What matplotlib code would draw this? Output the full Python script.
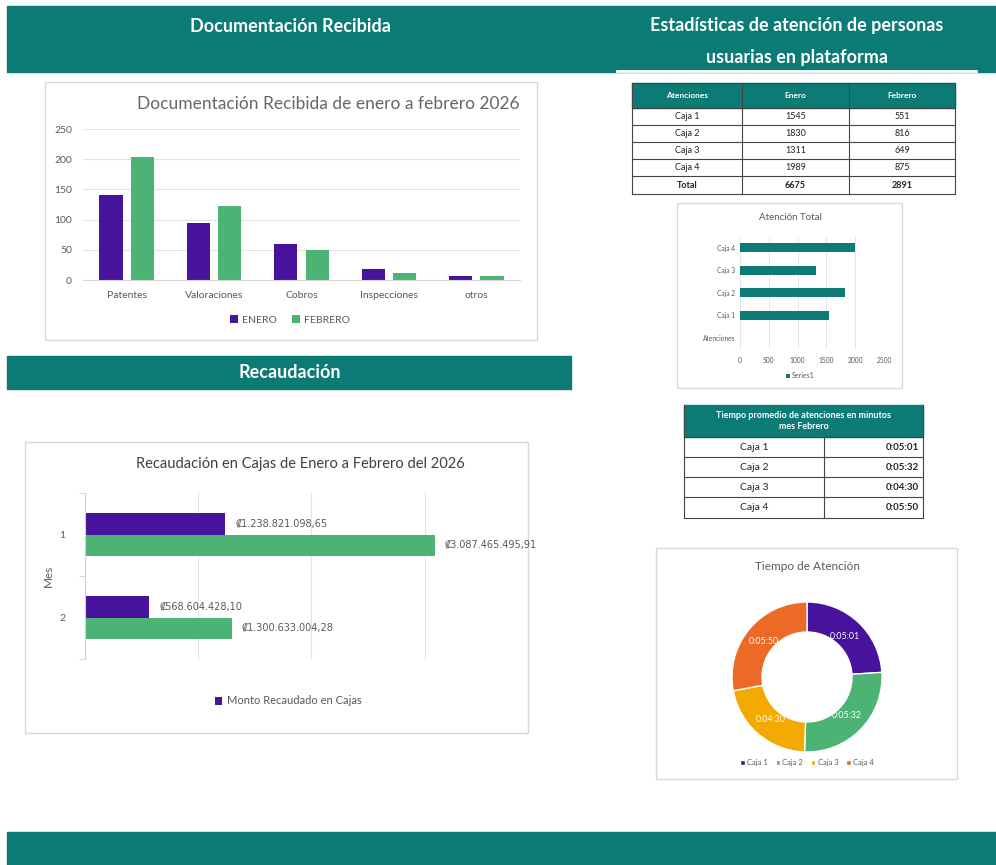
import matplotlib
matplotlib.use("Agg")
import matplotlib.pyplot as plt
from matplotlib.patches import Rectangle
import numpy as np

plt.rcParams['font.family'] = ['Lato', 'DejaVu Sans']

# ---------------- DATA ----------------
doc_categories = ["Patentes", "Valoraciones", "Cobros", "Inspecciones", "otros"]
doc_enero = [140, 95, 59, 19, 7]
doc_febrero = [204, 122, 50, 12, 6]
doc_series = ["ENERO", "FEBRERO"]

rec_meses = ["1", "2"]
rec_serie_a = [1238821098.65, 568604428.10]
rec_serie_b = [3087465495.91, 1300633004.28]
rec_labels_a = ["₡1.238.821.098,65", "₡568.604.428,10"]
rec_labels_b = ["₡3.087.465.495,91", "₡1.300.633.004,28"]

tabla_cols = ["Atenciones", "Enero", "Febrero"]
tabla_cajas = ["Caja 1", "Caja 2", "Caja 3", "Caja 4"]
tabla_enero = [1545, 1830, 1311, 1989]
tabla_febrero = [551, 816, 649, 875]

at_categories = ["Atenciones", "Caja 1", "Caja 2", "Caja 3", "Caja 4"]
at_values = [0, 1545, 1830, 1311, 1989]

tiempo_cajas = ["Caja 1", "Caja 2", "Caja 3", "Caja 4"]
tiempo_labels = ["0:05:01", "0:05:32", "0:04:30", "0:05:50"]
tiempo_segundos = [301, 332, 270, 350]

# ---------------- STYLE ----------------
W, H = 996, 865
TEAL = "#0c7b76"
PURPLE = "#47129c"
GREEN = "#4db374"
YELLOW = "#f2a900"
ORANGE = "#ec6a25"
GRAY_TXT = "#595959"
GRID = "#e3e3e3"

fig = plt.figure(figsize=(W / 100, H / 100), dpi=100)
fig.patch.set_facecolor("white")


def rect(x0, y0, x1, y1):
    return [x0 / W, 1 - y1 / H, (x1 - x0) / W, (y1 - y0) / H]


def fpt(x, y):
    return (x / W, 1 - y / H)


bg = fig.add_axes([0, 0, 1, 1], zorder=0)
bg.set_xlim(0, W)
bg.set_ylim(H, 0)
bg.axis("off")

# header bands
bg.add_patch(Rectangle((7, 6), W - 7, 66, color=TEAL))
bg.plot([617, 976], [71, 71], color="white", lw=2)
bg.text(290, 26, "Documentación Recibida", color="white", fontsize=13,
        fontweight="bold", ha="center", va="center")
bg.text(797, 26, "Estadísticas de atención de personas", color="white",
        fontsize=13, fontweight="bold", ha="center", va="center")
bg.text(797, 57, "usuarias en plataforma", color="white", fontsize=13,
        fontweight="bold", ha="center", va="center")
bg.add_patch(Rectangle((7, 356), 564, 33, color=TEAL))
bg.text(290, 373, "Recaudación", color="white", fontsize=13,
        fontweight="bold", ha="center", va="center")
bg.add_patch(Rectangle((7, 832), W - 7, 33, color=TEAL))

# chart boxes
for (x0, y0, x1, y1) in [(45, 82, 537, 340), (25, 442, 528, 733),
                         (677, 203, 902, 388), (656, 548, 957, 779)]:
    bg.add_patch(Rectangle((x0, y0), x1 - x0, y1 - y0, facecolor="white",
                           edgecolor="#d9d9d9", lw=1))

# ---------------- Chart 1: Documentación ----------------
ax1 = fig.add_axes(rect(83, 129, 520, 280), zorder=2)
x = np.arange(len(doc_categories))
bw = 0.265
ax1.bar(x - 0.18, doc_enero, bw, color=PURPLE, label=doc_series[0])
ax1.bar(x + 0.18, doc_febrero, bw, color=GREEN, label=doc_series[1])
ax1.set_xlim(-0.5, len(doc_categories) - 0.5)
ax1.set_ylim(0, 250)
ax1.set_yticks(range(0, 251, 50))
ax1.set_xticks(x)
ax1.set_xticklabels(doc_categories)
ax1.tick_params(length=0, labelsize=7.5, labelcolor=GRAY_TXT, pad=8)
ax1.grid(axis="y", color=GRID, lw=0.8)
ax1.set_axisbelow(True)
for s in ["top", "right", "left"]:
    ax1.spines[s].set_visible(False)
ax1.spines["bottom"].set_color("#d9d9d9")
ax1.patch.set_alpha(0)
fig.text(*fpt(328, 104), "Documentación Recibida de enero a febrero 2026",
         ha="center", va="center", fontsize=12.5, color="#666666")
ax1.legend(loc="center", bbox_to_anchor=fpt(290, 320), bbox_transform=fig.transFigure,
           ncol=2, frameon=False, fontsize=7.5, handlelength=0.7, handleheight=0.7,
           handletextpad=0.4, columnspacing=1.5, labelcolor=GRAY_TXT)

# ---------------- Chart 2: Recaudación ----------------
ax2 = fig.add_axes(rect(85, 493, 470, 659), zorder=2)
y = np.arange(1, len(rec_meses) + 1)
hb = 0.265
ax2.barh(y - hb / 2, rec_serie_a, hb, color=PURPLE, label="Monto Recaudado en Cajas")
ax2.barh(y + hb / 2, rec_serie_b, hb, color=GREEN)
ax2.set_ylim(2.5, 0.5)
ax2.set_xlim(0, 3.4e9)
ax2.set_xticks([1e9, 2e9, 3e9])
ax2.set_xticklabels([])
ax2.tick_params(axis="x", length=0)
ax2.set_yticks(y)
ax2.set_yticklabels(rec_meses)
ax2.set_yticks([0.5, 1.5, 2.5], minor=True)
ax2.tick_params(axis="y", which="major", length=0, labelsize=7.5,
                labelcolor=GRAY_TXT, pad=14)
ax2.tick_params(axis="y", which="minor", length=4, color="#d0d0d0")
ax2.grid(axis="x", color=GRID, lw=0.8)
ax2.set_axisbelow(True)
for s in ["top", "right", "bottom"]:
    ax2.spines[s].set_visible(False)
ax2.spines["left"].set_color("#d0d0d0")
ax2.patch.set_alpha(0)
for yi, v, lab in zip(y - hb / 2, rec_serie_a, rec_labels_a):
    ax2.annotate(lab, (v, yi), xytext=(7, 0), textcoords="offset points",
                 va="center", ha="left", fontsize=7, color=GRAY_TXT, clip_on=False,
                 family=["DejaVu Sans"])
for yi, v, lab in zip(y + hb / 2, rec_serie_b, rec_labels_b):
    ax2.annotate(lab, (v, yi), xytext=(7, 0), textcoords="offset points",
                 va="center", ha="left", fontsize=7, color=GRAY_TXT, clip_on=False,
                 family=["DejaVu Sans"])
fig.text(*fpt(48, 576), "Mes", rotation=90, ha="center", va="center",
         fontsize=8.5, color=GRAY_TXT)
fig.text(*fpt(300, 464), "Recaudación en Cajas de Enero a Febrero del 2026",
         ha="center", va="center", fontsize=10.5, color="#404040")
ax2.legend(loc="center", bbox_to_anchor=fpt(288, 701), bbox_transform=fig.transFigure,
           frameon=False, fontsize=8, handlelength=0.7, handleheight=0.7,
           handletextpad=0.4, labelcolor=GRAY_TXT)

# ---------------- Table 1 ----------------
tx = [632, 742, 849, 955]
ty = [83, 108, 125, 142, 159, 176, 194]
bg.add_patch(Rectangle((tx[0], ty[0]), tx[-1] - tx[0], ty[1] - ty[0], color=TEAL))
for j, c in enumerate(tabla_cols):
    bg.text((tx[j] + tx[j + 1]) / 2, (ty[0] + ty[1]) / 2, c, color="white",
            fontsize=6, fontweight="bold", ha="center", va="center")
rows = [(c, str(e), str(f)) for c, e, f in zip(tabla_cajas, tabla_enero, tabla_febrero)]
rows.append(("Total", str(sum(tabla_enero)), str(sum(tabla_febrero))))
for i, r in enumerate(rows):
    yc = (ty[i + 1] + ty[i + 2]) / 2
    for j, val in enumerate(r):
        bg.text((tx[j] + tx[j + 1]) / 2, yc, val, fontsize=6.5, ha="center",
                va="center", color="#222222",
                fontweight="bold" if i == len(rows) - 1 else "normal")
for yy in ty[1:]:
    bg.plot([tx[0], tx[-1]], [yy, yy], color="#444444", lw=0.8)
bg.plot([tx[0], tx[-1]], [ty[0], ty[0]], color="#444444", lw=0.8)
for xx in tx:
    bg.plot([xx, xx], [ty[0], ty[-1]], color="#444444", lw=0.8)

# ---------------- Chart 3: Atención Total ----------------
ax3 = fig.add_axes(rect(740, 236.5, 884, 349), zorder=2)
yc3 = np.arange(len(at_categories))
ax3.barh(yc3, at_values, 0.42, color=TEAL, label="Series1")
ax3.set_xlim(0, 2500)
ax3.set_ylim(-0.5, len(at_categories) - 0.5)
ax3.set_xticks(range(0, 2501, 500))
ax3.set_yticks(yc3)
ax3.set_yticklabels(at_categories)
ax3.tick_params(length=0, labelsize=4.8, labelcolor=GRAY_TXT)
ax3.tick_params(axis="x", pad=6)
ax3.grid(axis="x", color=GRID, lw=0.6)
ax3.set_axisbelow(True)
for s in ax3.spines.values():
    s.set_visible(False)
ax3.patch.set_alpha(0)
fig.text(*fpt(790, 218), "Atención Total", ha="center", va="center",
         fontsize=7, color=GRAY_TXT)
ax3.legend(loc="center", bbox_to_anchor=fpt(800, 376), bbox_transform=fig.transFigure,
           frameon=False, fontsize=5, handlelength=0.6, handleheight=0.6,
           handletextpad=0.3, labelcolor=GRAY_TXT)

# ---------------- Table 2 ----------------
t2x = [684, 824, 923]
t2y = [405, 437, 457, 477, 497, 518]
bg.add_patch(Rectangle((t2x[0], t2y[0]), t2x[-1] - t2x[0], t2y[1] - t2y[0], color=TEAL))
bg.text((t2x[0] + t2x[-1]) / 2, (t2y[0] + t2y[1]) / 2,
        "Tiempo promedio de atenciones en minutos\nmes Febrero", color="white",
        fontsize=6.5, fontweight="bold", ha="center", va="center", linespacing=1.3)
for i, (c, t) in enumerate(zip(tiempo_cajas, tiempo_labels)):
    yc = (t2y[i + 1] + t2y[i + 2]) / 2
    bg.text((t2x[0] + t2x[1]) / 2, yc, c, fontsize=7.5, ha="center", va="center",
            color="#222222")
    bg.text(t2x[2] - 4, yc, t, fontsize=7, ha="right", va="center",
            color="#222222", fontweight="bold")
for yy in t2y[1:]:
    bg.plot([t2x[0], t2x[-1]], [yy, yy], color="#444444", lw=0.8)
for xx in [t2x[0], t2x[-1]]:
    bg.plot([xx, xx], [t2y[0], t2y[-1]], color="#444444", lw=0.8)
bg.plot([t2x[1], t2x[1]], [t2y[1], t2y[-1]], color="#444444", lw=0.8)

# ---------------- Chart 4: Donut ----------------
R = 75
ax4 = fig.add_axes(rect(807 - R, 677 - R, 807 + R, 677 + R), zorder=2)
colors4 = [PURPLE, GREEN, YELLOW, ORANGE]
wedges, _ = ax4.pie(tiempo_segundos, colors=colors4, startangle=90, counterclock=False,
                    radius=1, wedgeprops=dict(width=0.4, edgecolor="white", linewidth=1))
for w, lab in zip(wedges, tiempo_labels):
    ang = np.deg2rad((w.theta1 + w.theta2) / 2)
    ax4.text(0.74 * np.cos(ang), 0.74 * np.sin(ang), lab, ha="center", va="center",
             fontsize=6.3, color="white")
ax4.set_xlim(-1, 1)
ax4.set_ylim(-1, 1)
ax4.set_aspect("equal")
ax4.axis("off")
fig.text(*fpt(807, 566), "Tiempo de Atención", ha="center", va="center",
         fontsize=8.5, color=GRAY_TXT)
ax4.legend(wedges, tiempo_cajas, loc="center", bbox_to_anchor=fpt(807, 763),
           bbox_transform=fig.transFigure, ncol=4, frameon=False, fontsize=5.5,
           handlelength=0.6, handleheight=0.6, handletextpad=0.3, columnspacing=1.0,
           labelcolor=GRAY_TXT)

fig.savefig("out.png", dpi=100, facecolor="white")
